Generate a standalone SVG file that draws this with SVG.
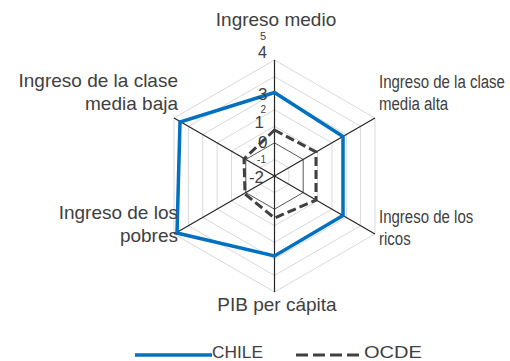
<svg xmlns="http://www.w3.org/2000/svg" width="510" height="361" viewBox="0 0 510 361">
<style>
text{font-family:"Liberation Sans",Arial,sans-serif;fill:#404040}
.lab{font-size:19px}
.nar{font-size:19px}
.grid{fill:none;stroke:#d9d9d9;stroke-width:1}
.zero{fill:none;stroke:#595959;stroke-width:1}
.axis{stroke:#262626;stroke-width:1.2}
.chile{fill:none;stroke:#0070c0;stroke-width:3.5;stroke-linejoin:miter}
.ocde{fill:none;stroke:#404040;stroke-width:3;stroke-dasharray:9 4}
.tick{text-anchor:end}
</style>
<rect width="510" height="361" fill="#ffffff"/>
<g id="grid">
<polygon class="grid" points="274.5,159.43 288.85,167.71 288.85,184.29 274.5,192.57 260.15,184.29 260.15,167.71"/>
<polygon class="grid" points="274.5,126.29 317.55,151.14 317.55,200.86 274.5,225.71 231.45,200.86 231.45,151.14"/>
<polygon class="grid" points="274.5,109.71 331.9,142.86 331.9,209.14 274.5,242.29 217.1,209.14 217.1,142.86"/>
<polygon class="grid" points="274.5,93.14 346.26,134.57 346.26,217.43 274.5,258.86 202.74,217.43 202.74,134.57"/>
<polygon class="grid" points="274.5,76.57 360.61,126.29 360.61,225.71 274.5,275.43 188.39,225.71 188.39,126.29"/>
<polygon class="grid" points="274.5,60 374.96,118 374.96,234 274.5,292 174.04,234 174.04,118"/>
<polygon class="zero" points="274.5,142.86 303.2,159.43 303.2,192.57 274.5,209.14 245.8,192.57 245.8,159.43"/>
</g>
<g id="axes">
<line class="axis" x1="274.5" y1="176" x2="274.5" y2="60"/>
<line class="axis" x1="274.5" y1="176" x2="374.96" y2="118"/>
<line class="axis" x1="274.5" y1="176" x2="374.96" y2="234"/>
<line class="axis" x1="274.5" y1="176" x2="274.5" y2="292"/>
<line class="axis" x1="274.5" y1="176" x2="174.04" y2="234"/>
<line class="axis" x1="274.5" y1="176" x2="174.04" y2="118"/>
</g>
<g id="series-ocde">
<polygon class="ocde" points="274.5,130 316,152 316,200 274.5,218 245,194 244,159"/>
</g>
<g id="series-chile">
<polygon class="chile" points="274.5,92.5 343,136.5 343,215.5 274.5,256 177,233 180,122"/>
</g>
<g id="scale">
<text class="tick" x="266" y="40" style="font-size:11px">5</text>
<text class="tick" x="267" y="58" style="font-size:16px">4</text>
<text class="tick" x="267.5" y="100" style="font-size:17px">3</text>
<text class="tick" x="266" y="113" style="font-size:10px">2</text>
<text class="tick" x="264" y="128" style="font-size:17px">1</text>
<text class="tick" x="267.5" y="148" style="font-size:17px">0</text>
<text class="tick" x="266" y="163" style="font-size:10px">-1</text>
<text class="tick" x="264" y="183" style="font-size:17px">-2</text>
</g>
<g id="label-medio"><text class="lab" x="276" y="26" text-anchor="middle">Ingreso medio</text></g>
<g id="label-media-alta" transform="translate(379,0) scale(0.79,1)">
<text class="nar" x="0" y="88">Ingreso de la clase</text>
<text class="nar" x="0" y="110">media alta</text>
</g>
<g id="label-ricos" transform="translate(379,0) scale(0.79,1)">
<text class="nar" x="0" y="223">Ingreso de los</text>
<text class="nar" x="0" y="245">ricos</text>
</g>
<g id="label-pib"><text class="lab" x="277" y="311" text-anchor="middle">PIB per cápita</text></g>
<g id="label-pobres">
<text class="lab" x="178" y="219" text-anchor="end">Ingreso de los</text>
<text class="lab" x="178" y="242" text-anchor="end">pobres</text>
</g>
<g id="label-media-baja">
<text class="lab" x="178" y="87" text-anchor="end">Ingreso de la clase</text>
<text class="lab" x="178" y="110" text-anchor="end">media baja</text>
</g>
<g id="legend">
<line x1="135" y1="355" x2="212" y2="355" stroke="#0070c0" stroke-width="3.5"/>
<text x="212" y="358" style="font-size:17px" textLength="51" lengthAdjust="spacingAndGlyphs">CHILE</text>
<line x1="296" y1="355" x2="361" y2="355" stroke="#404040" stroke-width="3" stroke-dasharray="12 5"/>
<text x="364" y="358" style="font-size:17px" textLength="58" lengthAdjust="spacingAndGlyphs">OCDE</text>
</g>
</svg>
